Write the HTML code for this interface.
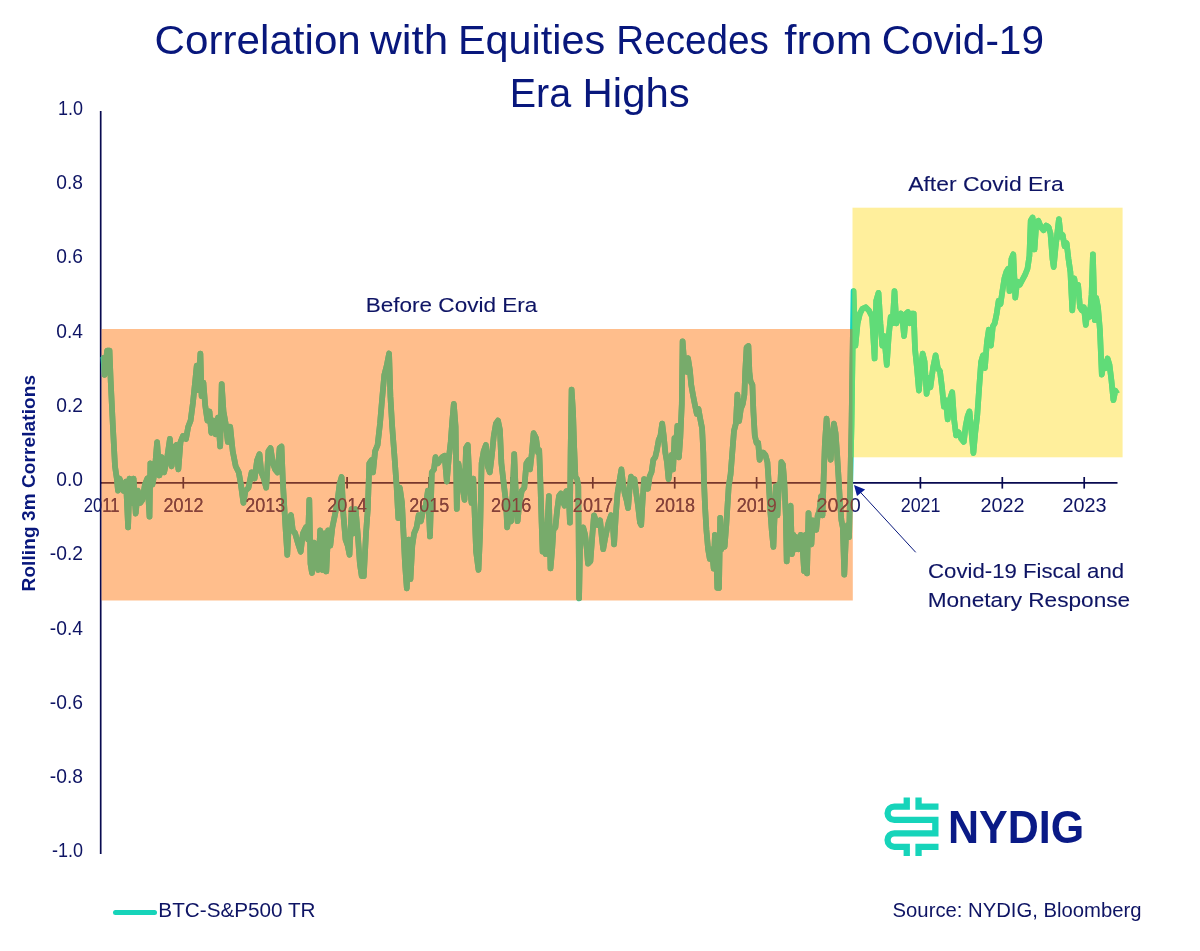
<!DOCTYPE html>
<html lang="en">
<head>
<meta charset="utf-8">
<title>Correlation with Equities Recedes from Covid-19 Era Highs</title>
<style>
html,body{margin:0;padding:0;background:#fff;}
body{width:1200px;height:951px;overflow:hidden;}
svg{display:block;font-family:"Liberation Sans",Arial,sans-serif;}
.title{font-size:40px;fill:#08177c;}
.tick{font-size:20px;stroke-width:0;}
.lbl{font-size:20.5px;fill:#0e1464;stroke:#0e1464;stroke-width:0.1px;}
</style>
</head>
<body>
<svg width="1200" height="951" viewBox="0 0 1200 951">
<defs>
<clipPath id="cpO"><rect x="101.6" y="329" width="751.2" height="271.5"/></clipPath>
<clipPath id="cpY"><rect x="852.5" y="207.7" width="270.1" height="249.6"/></clipPath>
<polyline id="ser" points="102.5,359.6 103.4,358.1 104.6,374.9 107.1,350.5 109.5,350.5 110.7,381 112.9,426.7 115,466.3 116.8,478.5 118,490.7 119.6,478.5 121.4,484.6 123.5,490.7 126,481.6 128.1,527.3 129.6,478.5 132.1,502.9 133.6,478.5 135.7,513.6 137.9,490.7 140.3,502.9 142.4,499.9 144.9,484.6 147.3,478.5 149.5,516.6 150.4,463.3 152.5,484.6 154.6,472.4 157.1,442 159.5,475.5 161.6,457.2 164.1,472.4 166.8,460.2 169.9,438.9 171.7,466.3 173.8,448 176.3,445 178.4,469.4 180.5,442 183,435.9 186,438.9 188.2,426.7 190.6,420.6 193,402.3 195.2,381 196.7,365.7 198.2,390.1 200.4,353.5 201.6,396.2 203.4,382.5 205.2,405.4 207.4,420.6 209.5,411.5 211.3,432.8 213.5,420.6 215.6,434.3 218,417.6 220.2,446.5 221.7,384 223.5,411.5 225.7,423.7 227.8,442 230.2,426.7 232.7,451.1 235.7,466.3 238.8,472.4 240.9,484.6 243.4,502.9 245.5,490.7 248.5,487.7 251.6,472.4 254.6,478.5 257.1,460.2 259.5,454.1 261.3,472.4 263.8,478.5 266.2,487.7 268.4,451.1 270.5,448 272.9,463.3 275.1,469.4 277.5,472.4 279.6,448 281.5,446.5 283,484.6 285.5,527.3 287.3,554.8 289.1,518.2 291,515.1 292.8,530.4 295.2,533.4 297.7,542.6 300.7,551.7 302.9,533.4 305.9,527.3 308,539.5 309.3,499.9 310.5,563.9 312,573 314.1,542.6 316,551.7 318.1,570 320.2,530.4 322.7,570 324.5,533.4 326.3,571.5 328.2,530.4 330.3,545.6 332.4,527.3 334.9,515.1 337.3,502.9 339.5,484.6 341.6,477 343.4,515.1 345.5,539.5 347.7,545.6 349.5,554.8 351.6,509 353.8,533.4 355.6,509 357.7,533.4 359.9,563.9 361.7,576.1 363.8,576.1 366,533.4 367.8,509 369.3,463.3 371.5,460.2 373,472.4 375.1,451.1 377.6,445 380,423.7 382.1,399.3 384.3,374.9 386.7,365.7 389.1,353.5 390.4,396.2 392.2,426.7 394.3,454.1 396.5,484.6 398.3,518.2 399.8,487.7 402,502.9 403.5,533.4 405,563.9 406.8,588.3 408.7,539.5 410.5,579.1 412.3,545.6 414.1,533.4 416.6,527.3 418.7,515.1 420.9,521.2 423.3,509 425.7,506 427.9,490.7 430,536.5 431.8,472.4 434,469.4 435.5,457.2 437.9,463.3 440.1,460.2 442.2,457.2 444.6,455.7 446.8,481.6 448.6,460.2 450.7,442 452.3,420.6 453.8,403.8 455.6,426.7 456.8,509 458.4,463.3 460.5,475.5 462.3,484.6 464.5,499.9 466,448 467.8,445 469.6,484.6 471.5,502.9 473.3,478.5 476.1,551.7 478.5,570 480.1,533.4 481.6,463.3 483.7,451.1 485.9,445 487.7,466.3 489.8,472.4 492,454.1 493.8,435.9 495.9,423.7 498,420.6 499.9,429.8 501.4,463.3 503.5,481.6 506,502.9 507.2,527.3 509,515.1 511.2,521.2 512.7,490.7 514.2,454.1 515.7,490.7 517.6,521.2 519.4,502.9 521.8,490.7 524.3,487.7 526.4,463.3 528.5,460.2 530,469.4 531.9,452.5 533.6,433.2 536,438 538,452.5 539.2,450.1 540.2,476.7 541.6,522.6 542.6,551.6 544,525 545.7,554 547.4,525 548.9,496 550.5,568.5 552.2,549.2 553.4,529.8 555.4,527.4 557.1,510.5 559,496 560.9,493.6 562.6,500.8 564.6,505.7 566.3,491.2 568.7,493.6 569.9,522.6 570.6,452.5 571.6,389.7 573,411.4 574.2,447.7 575.4,476.7 577.1,479.1 578.3,486.3 579.1,598.5 580,549.2 581.2,529.8 583.2,527.4 585.1,534.7 586.8,549.2 588,563.7 590.4,561.3 592.4,534.7 594,515.3 595.7,520.2 597.7,525 600.1,520.2 601.8,537.1 603.2,549.2 604.9,539.5 606.9,529.8 608.5,522.6 611,515.3 612.7,522.6 614.1,544.4 615.8,515.3 617.5,493.6 619.4,481.5 621.4,469.4 623.1,483.9 624.7,493.6 626.7,500.8 628.1,508.1 629.6,488.8 631,476.7 632.7,483.9 634.4,479.1 636.3,493.6 638,505.7 640,522.6 641.2,525 642.6,500.8 644.1,479.1 646,481.5 647.9,488.8 649.6,476.7 651.6,471.8 653.3,459.8 655.2,457.3 656.9,450.1 658.6,440.4 660.5,435.6 662.2,423.5 663.7,435.6 665.3,452.5 667,462.2 668.5,479.1 670.2,467 671.6,454.9 673.1,469.4 674.5,438 676,445.3 677.4,425.9 678.9,457.3 680.3,438 681.8,404.2 682.6,341.3 684.4,365.7 686.8,371.8 688,358.1 689.9,370.3 691.2,384.8 692.9,394.5 694.8,404.2 696.8,413.9 698.5,409 700.2,418.7 702.1,428.4 703.3,452.5 704,481.6 705,505.7 706.4,529.9 708.1,549.3 709.8,558.9 711.8,549.3 713.7,568.6 714.9,534.8 716.1,546.9 717.3,588 719,588 720.2,517.8 721.4,549.3 723.1,529.9 724.6,546.9 726.3,525.1 727.5,505.7 728.7,486.4 730.6,474.3 732.3,452.5 734,430.8 735.9,423.5 737.4,394.5 739.1,421.1 740.8,409 742.7,404.2 744.4,394.5 745.2,372 746.6,347.4 748.4,345.9 749.4,372 750.5,381.2 752.4,384.8 753.4,411.4 754.8,435.6 756.5,442.9 758.2,442.9 759.6,459.8 761.3,452.5 763.3,452.5 765.4,455 767.4,462.2 768.8,484 770.3,510.6 771.7,529.9 773.4,546.9 774.6,515.4 775.8,486.4 777.5,515.4 779,484 780.2,486.4 781.4,462.2 782.9,464.6 784.3,481.6 785.8,515.4 786.7,561.4 787.9,525.1 789.1,508.2 790.6,505.7 792,554.1 793.5,534.8 795.2,549.3 796.9,537.2 798.8,549.3 800.8,534.8 802.4,544.4 804.1,571 805.6,534.8 807,573.5 808.5,513 809.9,534.8 811.4,544.4 812.8,520.3 814.5,525.1 816.2,529.9 817.7,515.4 819.4,510.6 821.1,496.1 822.5,515.4 823.7,476.7 824.9,442.9 826.6,418.7 827.8,435.6 829.3,450.1 830.7,459.8 832.2,438 833.9,423.5 835.6,433.2 837,452.5 838.5,476.7 839.9,500.9 841.4,520.3 842.8,527.5 844.3,574.7 846,534.8 847.7,525.1 849.1,537.2 850.3,481.6 851.5,425.9 853.5,291.2 855.4,345.7 857.6,323.3 859.9,313.6 862.4,308.8 865.7,307.2 868.9,310.4 872.1,316.8 874.6,358.5 876.2,300.8 878.5,292.8 880.4,323.3 882.3,345.7 884.2,336.1 886.8,364.9 888.7,336.1 890.7,316.8 892.6,323.3 894.5,291.2 896.4,323.3 898.4,316.8 900.9,313.6 902.8,323.3 904.1,336.1 906.1,313.6 908,312 909.9,323.3 911.8,313.6 913.7,313.6 915,348.9 917,368.1 918.9,390.6 920.8,368.1 922.7,353.7 924.6,361.7 926.6,393.8 928.5,377.8 930.4,387.4 933,368.1 935.6,355.3 937.8,368.1 940,371.4 942,387.4 943.9,406.6 945.8,400.2 947.7,419.4 949.7,400.2 952.2,392.2 954.1,419.4 956.1,435.5 958.6,432.3 961.2,438.7 963.8,441.9 965.7,425.9 967.6,416.2 969.5,411.4 971.5,432.3 973.4,453.1 975.3,432.3 977.2,416.2 979.2,387.4 981.1,361.7 983,355.3 984.9,368.1 986.9,342.5 988.8,329.7 990.9,345.7 992.8,326.5 994.7,323.3 996.7,313.6 998.6,300.8 1000.5,304 1002.4,291.2 1004.4,278.4 1006.3,272 1008.2,268.7 1009.5,291.2 1011.4,259.1 1013.3,254.3 1015.3,297.6 1017.2,281.6 1019.8,284.8 1022.3,280 1024.9,275.2 1027.5,268.7 1029.4,255.9 1030.7,220.7 1032.6,217.4 1034.5,249.5 1036.4,222.3 1038.4,220.7 1040.9,227.1 1043.5,230.3 1046.1,225.5 1048.6,227.1 1050.5,233.5 1052.5,259.1 1053.7,267.1 1055.7,246.3 1057.6,230.3 1058.9,219 1060.8,236.7 1062.7,235.1 1064.6,246.3 1066.6,243.1 1068.5,259.1 1070.4,272 1072.3,310.4 1074.3,278.4 1076.2,291.2 1078.1,284.8 1080,307.2 1082,310.4 1083.9,307.2 1085.8,324.9 1087.7,310.4 1089.7,316.8 1091.6,294.4 1092.9,254.3 1094.8,320.1 1096.1,297.6 1098,307.2 1099.9,329.7 1101.8,374.6 1103.8,361.7 1105.7,368.1 1107.6,358.5 1109.5,364.9 1111.5,381 1113.4,400.2 1115.3,390.6 1117.2,393.8" fill="none" stroke-width="5.7" stroke-linejoin="round" stroke-linecap="butt"/>
<g id="xlab" class="tick">
<text x="83.67" y="511.8" textLength="35.71" lengthAdjust="spacingAndGlyphs">2011</text>
<text x="163.53" y="511.8" textLength="39.95" lengthAdjust="spacingAndGlyphs">2012</text>
<text x="245.36" y="511.8" textLength="39.98" lengthAdjust="spacingAndGlyphs">2013</text>
<text x="327.24" y="511.8" textLength="39.84" lengthAdjust="spacingAndGlyphs">2014</text>
<text x="409.14" y="511.8" textLength="40.04" lengthAdjust="spacingAndGlyphs">2015</text>
<text x="491.06" y="511.8" textLength="40.2" lengthAdjust="spacingAndGlyphs">2016</text>
<text x="572.8" y="511.8" textLength="40.33" lengthAdjust="spacingAndGlyphs">2017</text>
<text x="654.92" y="511.8" textLength="40.15" lengthAdjust="spacingAndGlyphs">2018</text>
<text x="736.86" y="511.8" textLength="40.02" lengthAdjust="spacingAndGlyphs">2019</text>
<text x="816.61" y="511.8" textLength="44.06" lengthAdjust="spacingAndGlyphs">2020</text>
<text x="900.68" y="511.8" textLength="39.87" lengthAdjust="spacingAndGlyphs">2021</text>
<text x="980.54" y="511.8" textLength="43.98" lengthAdjust="spacingAndGlyphs">2022</text>
<text x="1062.4" y="511.8" textLength="44.17" lengthAdjust="spacingAndGlyphs">2023</text>
</g>
</defs>
<rect width="1200" height="951" fill="#ffffff"/>
<g class="title">
<text y="53.7"><tspan x="154.6" textLength="206.22" lengthAdjust="spacingAndGlyphs">Correlation</tspan> <tspan x="370.0" textLength="78.32" lengthAdjust="spacingAndGlyphs">with</tspan> <tspan x="457.92" textLength="147.35" lengthAdjust="spacingAndGlyphs">Equities</tspan> <tspan x="616.21" textLength="152.62" lengthAdjust="spacingAndGlyphs">Recedes</tspan> <tspan x="784.39" textLength="87.91" lengthAdjust="spacingAndGlyphs">from</tspan> <tspan x="881.82" textLength="162.11" lengthAdjust="spacingAndGlyphs">Covid-19</tspan></text>
<text y="107"><tspan x="509.77" textLength="61.38" lengthAdjust="spacingAndGlyphs">Era</tspan> <tspan x="582.57" textLength="107.12" lengthAdjust="spacingAndGlyphs">Highs</tspan></text>
</g>
<!-- axes -->
<g stroke="#080a50" stroke-width="1.7" fill="none">
<line x1="100.7" y1="111" x2="100.7" y2="854"/>
<line x1="100.7" y1="482.8" x2="1117.5" y2="482.8"/>
<line x1="183.3" y1="477" x2="183.3" y2="488.6"/>
<line x1="265.2" y1="477" x2="265.2" y2="488.6"/>
<line x1="347.1" y1="477" x2="347.1" y2="488.6"/>
<line x1="429.0" y1="477" x2="429.0" y2="488.6"/>
<line x1="510.9" y1="477" x2="510.9" y2="488.6"/>
<line x1="592.8" y1="477" x2="592.8" y2="488.6"/>
<line x1="674.7" y1="477" x2="674.7" y2="488.6"/>
<line x1="756.6" y1="477" x2="756.6" y2="488.6"/>
<line x1="838.5" y1="477" x2="838.5" y2="488.6"/>
<line x1="920.4" y1="477" x2="920.4" y2="488.6"/>
<line x1="1002.3" y1="477" x2="1002.3" y2="488.6"/>
<line x1="1084.2" y1="477" x2="1084.2" y2="488.6"/>
</g>
<g class="tick" fill="#0e1464" stroke="#0e1464">
<text x="83" y="114.7" text-anchor="end" textLength="25.0" lengthAdjust="spacingAndGlyphs">1.0</text>
<text x="83" y="189.0" text-anchor="end" textLength="26.7" lengthAdjust="spacingAndGlyphs">0.8</text>
<text x="83" y="263.2" text-anchor="end" textLength="26.7" lengthAdjust="spacingAndGlyphs">0.6</text>
<text x="83" y="337.5" text-anchor="end" textLength="26.7" lengthAdjust="spacingAndGlyphs">0.4</text>
<text x="83" y="411.8" text-anchor="end" textLength="26.7" lengthAdjust="spacingAndGlyphs">0.2</text>
<text x="83" y="486.0" text-anchor="end" textLength="26.7" lengthAdjust="spacingAndGlyphs">0.0</text>
<text x="83" y="560.3" text-anchor="end" textLength="33.2" lengthAdjust="spacingAndGlyphs">-0.2</text>
<text x="83" y="634.6" text-anchor="end" textLength="33.2" lengthAdjust="spacingAndGlyphs">-0.4</text>
<text x="83" y="708.9" text-anchor="end" textLength="33.2" lengthAdjust="spacingAndGlyphs">-0.6</text>
<text x="83" y="783.1" text-anchor="end" textLength="33.2" lengthAdjust="spacingAndGlyphs">-0.8</text>
<text x="83" y="857.4" text-anchor="end" textLength="31.0" lengthAdjust="spacingAndGlyphs">-1.0</text>
</g>
<text transform="translate(34.8,483.2) rotate(-90)" text-anchor="middle" font-size="19" font-weight="bold" fill="#08177c" textLength="216.5" lengthAdjust="spacing">Rolling 3m Correlations</text>
<!-- series (base colour, visible outside the shaded eras) -->
<use href="#ser" stroke="#16d4ba"/>
<use href="#xlab" fill="#0e1464" stroke="#0e1464"/>
<!-- era overlays -->
<rect x="101.6" y="329" width="751.2" height="271.5" fill="rgb(255,110,0)" fill-opacity="0.45"/>
<rect x="852.5" y="207.7" width="270.1" height="249.6" fill="rgb(255,215,0)" fill-opacity="0.39"/>
<use href="#ser" stroke="#77ab6b" clip-path="url(#cpO)"/>
<use href="#ser" stroke="#60dc78" clip-path="url(#cpY)"/>
<use href="#xlab" fill="#86423a" stroke="#86423a" clip-path="url(#cpO)"/>
<!-- annotations -->
<text class="lbl" x="365.68" textLength="171.68" lengthAdjust="spacingAndGlyphs" y="311.5">Before Covid Era</text>
<text class="lbl" x="908.17" textLength="155.57" lengthAdjust="spacingAndGlyphs" y="191">After Covid Era</text>
<text class="lbl" x="928.05" textLength="196.02" lengthAdjust="spacingAndGlyphs" y="578.3">Covid-19 Fiscal and</text>
<text class="lbl" x="927.65" textLength="202.57" lengthAdjust="spacingAndGlyphs" y="606.8">Monetary Response</text>
<g stroke="#08177c" fill="#08177c">
<line x1="915.7" y1="552.3" x2="858" y2="489.6" stroke-width="1"/>
<path d="M854 485 L865.1 489.4 L857 496 Z" stroke="none" fill="#0a1e96"/>
</g>
<!-- logo -->
<g fill="none" stroke="#16d4ba" stroke-width="6.3" stroke-linejoin="miter">
<path d="M906.75 797.5 V806.55 H894.3 A6.7 6.7 0 0 0 894.3 819.95 H935.35 V833.35 H894.3 A6.7 6.7 0 0 0 894.3 846.8 H906.75 V855.9"/>
<path d="M918.55 797.5 V806.55 H938.5"/>
<path d="M918.55 855.9 V846.8 H938.5"/>
</g>
<text x="948.03" textLength="136.16" lengthAdjust="spacingAndGlyphs" y="843.2" font-size="46.5" font-weight="bold" fill="#0a1a86">NYDIG</text>
<!-- legend + source -->
<line x1="115.5" y1="912.5" x2="154.5" y2="912.5" stroke="#16d4ba" stroke-width="5" stroke-linecap="round"/>
<text x="158.33" textLength="157.25" lengthAdjust="spacingAndGlyphs" y="916.6" font-size="19.5" fill="#0e1464">BTC-S&amp;P500 TR</text>
<text x="892.57" textLength="248.98" lengthAdjust="spacingAndGlyphs" y="917.2" font-size="20.3" fill="#0e1464">Source: NYDIG, Bloomberg</text>
</svg>
</body>
</html>
